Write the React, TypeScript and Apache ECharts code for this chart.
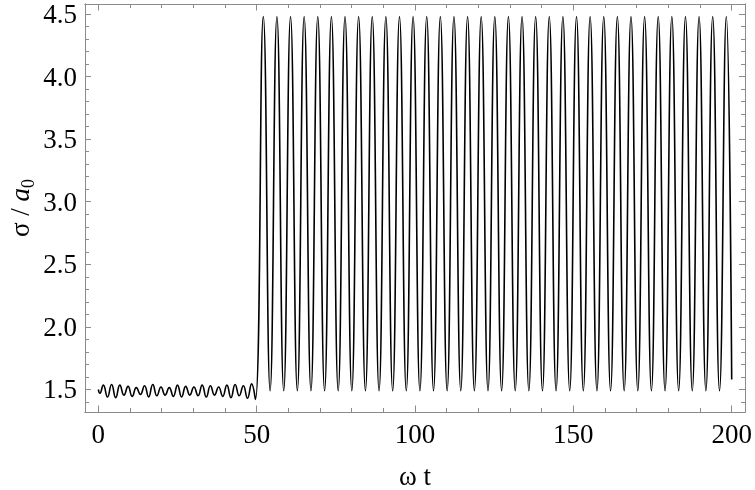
import React, { useEffect, useRef } from "react";
import * as echarts from "echarts";

// Before ωt = 50: small oscillation (local extrema)
const preT = [0, 0.5, 1.6, 2.9, 4.2, 5.5, 6.8, 8.1, 9.4, 10.7, 12.0, 13.3, 14.6, 15.9, 17.2, 18.5, 19.8, 21.1, 22.4, 23.7, 25.0, 26.3, 27.6, 28.9, 30.2, 31.5, 32.8, 34.1, 35.4, 36.7, 38.0, 39.3, 40.6, 41.9, 43.2, 44.5, 45.8, 47.1, 48.4, 49.6];
const preV = [1.5, 1.47, 1.535, 1.44, 1.54, 1.435, 1.535, 1.455, 1.525, 1.445, 1.515, 1.46, 1.53, 1.44, 1.54, 1.45, 1.52, 1.455, 1.515, 1.445, 1.535, 1.44, 1.525, 1.455, 1.52, 1.45, 1.535, 1.44, 1.53, 1.455, 1.52, 1.445, 1.535, 1.435, 1.54, 1.45, 1.53, 1.43, 1.545, 1.42];

// After ωt = 50: large oscillation peaks and troughs
const peakT = [52.1, 56.4, 60.7, 65.0, 69.3, 73.6, 77.9, 82.2, 86.5, 90.8, 95.1, 99.4, 103.7, 108.0, 112.3, 116.6, 120.9, 125.2, 129.5, 133.8, 138.1, 142.4, 146.7, 151.0, 155.3, 159.6, 163.9, 168.2, 172.5, 176.8, 181.1, 185.4, 189.7, 194.0, 198.3];
const peakV = [4.48, 4.48, 4.48, 4.48, 4.48, 4.48, 4.48, 4.48, 4.48, 4.48, 4.48, 4.48, 4.48, 4.48, 4.48, 4.48, 4.48, 4.48, 4.48, 4.48, 4.48, 4.48, 4.48, 4.48, 4.48, 4.48, 4.48, 4.48, 4.48, 4.48, 4.48, 4.48, 4.48, 4.48, 4.48];
const troughT = [54.25, 58.55, 62.85, 67.15, 71.45, 75.75, 80.05, 84.35, 88.65, 92.95, 97.25, 101.55, 105.85, 110.15, 114.45, 118.75, 123.05, 127.35, 131.65, 135.95, 140.25, 144.55, 148.85, 153.15, 157.45, 161.75, 166.05, 170.35, 174.65, 178.95, 183.25, 187.55, 191.85, 196.15];
const troughV = [1.49, 1.49, 1.49, 1.49, 1.49, 1.49, 1.49, 1.49, 1.49, 1.49, 1.49, 1.49, 1.49, 1.49, 1.49, 1.49, 1.49, 1.49, 1.49, 1.49, 1.49, 1.49, 1.49, 1.49, 1.49, 1.49, 1.49, 1.49, 1.49, 1.49, 1.49, 1.49, 1.49, 1.49];
const endT = [200];
const endV = [1.58];

const xMajor = [0, 50, 100, 150, 200];
const xMinor = [10, 20, 30, 40, 60, 70, 80, 90, 110, 120, 130, 140, 160, 170, 180, 190];
const yMajor = [1.5, 2.0, 2.5, 3.0, 3.5, 4.0, 4.5];
const yMinor = [1.4, 1.6, 1.7, 1.8, 1.9, 2.1, 2.2, 2.3, 2.4, 2.6, 2.7, 2.8, 2.9, 3.1, 3.2, 3.3, 3.4, 3.6, 3.7, 3.8, 3.9, 4.1, 4.2, 4.3, 4.4];

const X_MIN = -4.2;
const X_MAX = 204.2;
const Y_MIN = 1.32;
const Y_MAX = 4.58;

const FRAME = "#8a8a8a";
const FONT = "Liberation Serif";

export default function App() {
  const ref = useRef<HTMLDivElement>(null);
  useEffect(() => {
    if (!ref.current) return;
    const chart = echarts.init(ref.current, null, { renderer: "svg" });

    const pts: [number, number][] = [];
    preT.forEach((t, i) => pts.push([t, preV[i]]));
    peakT.forEach((t, i) => pts.push([t, peakV[i]]));
    troughT.forEach((t, i) => pts.push([t, troughV[i]]));
    endT.forEach((t, i) => pts.push([t, endV[i]]));
    pts.sort((a, b) => a[0] - b[0]);

    const xAx = (pos: string, vals: number[], len: number, label: any) => ({
      type: "value",
      min: X_MIN,
      max: X_MAX,
      position: pos,
      axisLine: { show: true, onZero: false, lineStyle: { color: FRAME, width: 1 } },
      axisTick: { show: true, inside: true, length: len, customValues: vals, lineStyle: { color: FRAME, width: 1 } },
      axisLabel: label,
      splitLine: { show: false },
    });
    const yAx = (pos: string, vals: number[], len: number, label: any) => ({
      type: "value",
      min: Y_MIN,
      max: Y_MAX,
      position: pos,
      axisLine: { show: true, onZero: false, lineStyle: { color: FRAME, width: 1 } },
      axisTick: { show: true, inside: true, length: len, customValues: vals, lineStyle: { color: FRAME, width: 1 } },
      axisLabel: label,
      splitLine: { show: false },
    });

    const GL = 85, GT = 4, GW = 660, GH = 408;

    chart.setOption({
      animation: false,
      grid: { left: GL, top: GT, width: GW, height: GH },
      xAxis: [
        xAx("bottom", xMajor, 6.5, {
          customValues: xMajor,
          fontFamily: FONT,
          fontSize: 27,
          color: "#000",
          formatter: (v: number) => String(Math.round(v)),
        }),
        xAx("top", xMajor, 6.5, { show: false }),
        xAx("bottom", xMinor, 4, { show: false }),
        xAx("top", xMinor, 4, { show: false }),
      ],
      yAxis: [
        yAx("left", yMajor, 6, {
          customValues: yMajor,
          fontFamily: FONT,
          fontSize: 27,
          color: "#000",
          formatter: (v: number) => v.toFixed(1),
        }),
        yAx("right", yMajor, 6, { show: false }),
        yAx("left", yMinor, 4, { show: false }),
        yAx("right", yMinor, 4, { show: false }),
      ],
      graphic: [
        {
          type: "text",
          x: GL + GW / 2,
          y: 476,
          style: {
            text: "ω t",
            fontFamily: FONT,
            fontSize: 27,
            fill: "#000",
            align: "center",
            verticalAlign: "middle",
          },
        },
        {
          type: "text",
          x: 20,
          y: GT + GH / 2,
          rotation: Math.PI / 2,
          style: {
            text: "{s|σ / }{a|a}{sub|0}",
            align: "center",
            verticalAlign: "middle",
            fill: "#000",
            rich: {
              s: { fontFamily: FONT, fontSize: 27, fill: "#000" },
              a: { fontFamily: FONT, fontSize: 27, fontStyle: "italic", fill: "#000" },
              sub: { fontFamily: FONT, fontSize: 18, fill: "#000", verticalAlign: "bottom", padding: [0, 0, -3, 0] },
            },
          },
        },
      ],
      series: [
        {
          type: "line",
          xAxisIndex: 0,
          yAxisIndex: 0,
          data: pts,
          showSymbol: false,
          symbol: "none",
          smooth: 0.5,
          lineStyle: { color: "#000", width: 1.6 },
        },
      ],
    });
    return () => chart.dispose();
  }, []);
  return <div ref={ref} style={{ position: "fixed", left: 0, top: 0, width: 755, height: 490 }} />;
}
